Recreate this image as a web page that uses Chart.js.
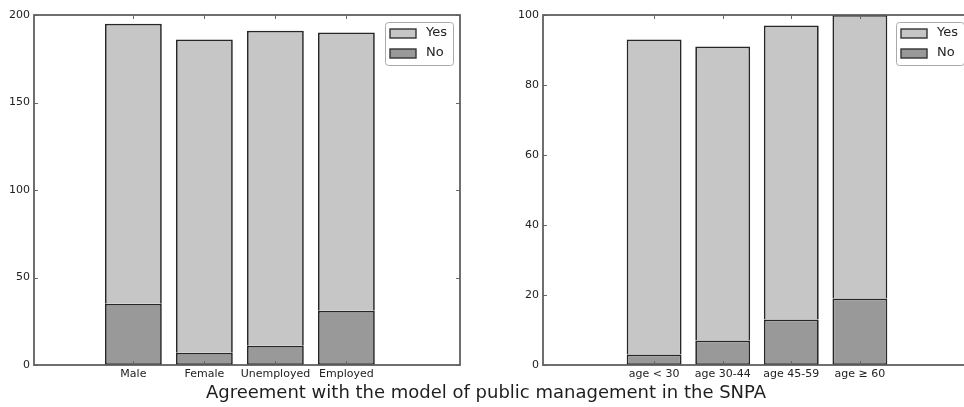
<!DOCTYPE html>
<html>
<head>
<meta charset="utf-8">
<script src="https://cdn.jsdelivr.net/npm/chart.js@4"></script>
<style>
  html, body { margin: 0; padding: 0; background: #fff; overflow: hidden; }
  body { width: 964px; height: 407px; position: relative; }
  .box { position: absolute; top: 0; }
  #title {
    position: absolute; left: 0; width: 972px; top: 381px;
    text-align: center; font: 18px "DejaVu Sans", sans-serif; color: #1e1e1e;
  }
</style>
</head>
<body>
<div class="box" style="left:0;width:482px;height:385px"><canvas id="left"></canvas></div>
<div class="box" style="left:482px;width:490px;height:385px"><canvas id="right"></canvas></div>
<div id="title">Agreement with the model of public management in the SNPA</div>

<script>
// ======================
// Data
// ======================
const groupLabels = ["Male", "Female", "Unemployed", "Employed"];
const groupYes = [160, 179, 180, 159];
const groupNo = [35, 7, 11, 31];
const groupTicks = [0, 50, 100, 150, 200];

const ageLabels = ["age < 30", "age 30-44", "age 45-59", "age \u2265 60"];
const ageYes = [90, 84, 84, 81];
const ageNo = [3, 7, 13, 19];
const ageTicks = [0, 20, 40, 60, 80, 100];

const YES_COLOR = "#c6c6c6";
const NO_COLOR = "#999999";
const FONT = "DejaVu Sans";

// frame, inward ticks and legend drawn like the matplotlib original
const framePlugin = {
    id: "frame",
    afterDatasetsDraw(chart) {
        const { ctx, chartArea: a, scales } = chart;
        ctx.save();
        ctx.strokeStyle = "#666";
        ctx.lineWidth = 1;
        scales.y.ticks.forEach(t => {
            const y = Math.round(scales.y.getPixelForValue(t.value)) + 0.5;
            ctx.beginPath();
            ctx.moveTo(a.left, y); ctx.lineTo(a.left + 4, y);
            ctx.moveTo(a.right, y); ctx.lineTo(a.right - 4, y);
            ctx.stroke();
        });
        scales.x.ticks.forEach(t => {
            const x = Math.round(scales.x.getPixelForValue(t.value)) + 0.5;
            ctx.beginPath();
            ctx.moveTo(x, a.bottom); ctx.lineTo(x, a.bottom - 4);
            ctx.moveTo(x, a.top); ctx.lineTo(x, a.top + 4);
            ctx.stroke();
        });
        ctx.lineWidth = 1.8;
        ctx.strokeStyle = "#606060";
        ctx.strokeRect(a.left, a.top, a.right - a.left, a.bottom - a.top);

        // legend box inside the upper right corner
        const bw = 68, bh = 43;
        const bx = a.right - 7 - bw, by = a.top + 7;
        ctx.fillStyle = "#fff";
        ctx.strokeStyle = "#aaa";
        ctx.lineWidth = 1;
        ctx.beginPath();
        ctx.roundRect(bx + 0.5, by + 0.5, bw, bh, 3);
        ctx.fill(); ctx.stroke();
        const items = [chart.data.datasets[1], chart.data.datasets[0]];
        ctx.font = "13px " + FONT;
        ctx.textBaseline = "middle";
        items.forEach((d, i) => {
            const cy = by + 11 + i * 20;
            ctx.fillStyle = d.backgroundColor;
            ctx.strokeStyle = "#333";
            ctx.lineWidth = 1.4;
            ctx.fillRect(bx + 5, cy - 4, 26, 9);
            ctx.strokeRect(bx + 5, cy - 4, 26, 9);
            ctx.fillStyle = "#222";
            ctx.fillText(d.label, bx + 41, cy);
        });
        ctx.restore();
    }
};

function makeChart(id, labels, yes, no, ticks, xMin, xMax, yAxisWidth, padRight) {
    const el = document.getElementById(id);
    return new Chart(el, {
        type: "bar",
        data: {
            datasets: [{
                label: "No",
                data: no.map((v, i) => ({ x: i, y: v })),
                backgroundColor: NO_COLOR,
                borderColor: "#262626",
                borderWidth: 1.7,
                borderSkipped: false
            }, {
                label: "Yes",
                data: yes.map((v, i) => ({ x: i, y: v })),
                backgroundColor: YES_COLOR,
                borderColor: "#262626",
                borderWidth: 1.7,
                borderSkipped: "bottom"
            }]
        },
        options: {
            responsive: true,
            maintainAspectRatio: false,
            animation: false,
            layout: { padding: { top: 15, right: padRight, left: 0, bottom: 0 } },
            datasets: { bar: { categoryPercentage: 0.8, barPercentage: 1 } },
            plugins: { legend: { display: false }, tooltip: { enabled: false } },
            scales: {
                x: {
                    type: "linear",
                    stacked: true,
                    offset: false,
                    min: xMin,
                    max: xMax,
                    grid: { display: false, drawTicks: false },
                    border: { display: false },
                    afterBuildTicks: s => { s.ticks = labels.map((l, i) => ({ value: i })); },
                    afterFit: s => { s.height = 20; },
                    ticks: {
                        color: "#222",
                        padding: 3,
                        maxRotation: 0,
                        autoSkip: false,
                        font: { family: FONT, size: 11 },
                        callback: v => labels[v]
                    }
                },
                y: {
                    stacked: true,
                    min: ticks[0],
                    max: ticks[ticks.length - 1],
                    grid: { display: false, drawTicks: false },
                    border: { display: false },
                    afterBuildTicks: s => { s.ticks = ticks.map(v => ({ value: v })); },
                    afterFit: s => { s.width = yAxisWidth; },
                    ticks: {
                        color: "#222",
                        padding: 4,
                        font: { family: FONT, size: 11 }
                    }
                }
            }
        },
        plugins: [framePlugin]
    });
}

document.addEventListener("DOMContentLoaded", () => {
    makeChart("left", groupLabels, groupYes, groupNo, groupTicks, -1.4, 4.6, 34, 22);
    makeChart("right", ageLabels, ageYes, ageNo, ageTicks, -1.62, 4.62, 61, 1);
});
</script>
</body>
</html>
